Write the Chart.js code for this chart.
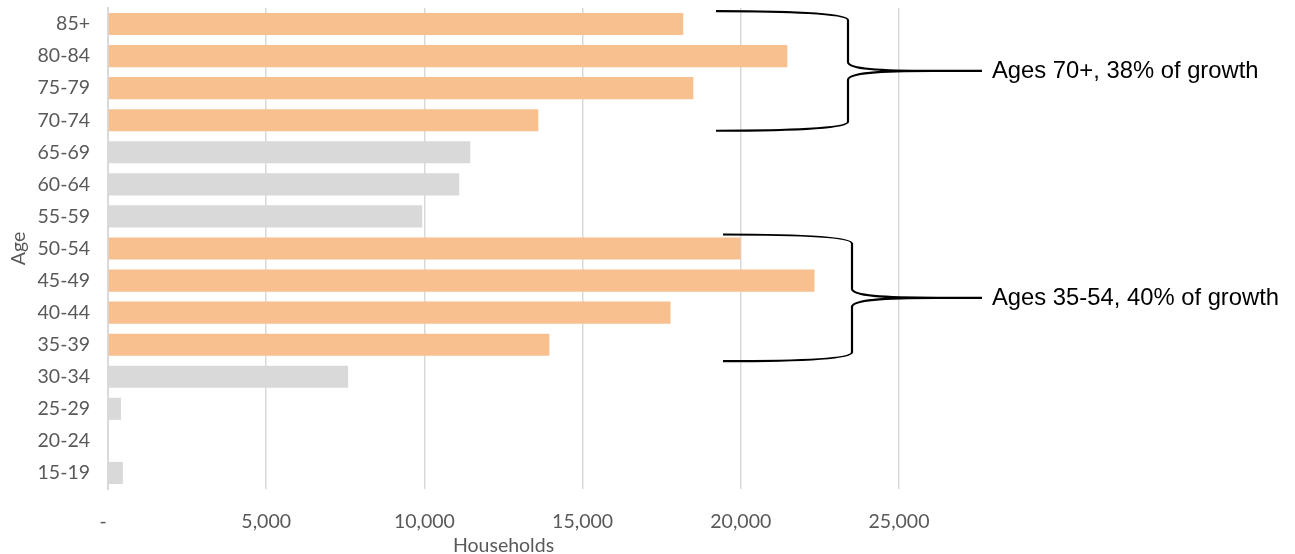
<!DOCTYPE html>
<html>
<head>
<meta charset="utf-8">
<script src="https://cdn.jsdelivr.net/npm/chart.js@4.4.1/dist/chart.umd.min.js"></script>
<style>
  html, body { margin: 0; padding: 0; background: #ffffff; }
  #wrap { width: 1295px; height: 554px; position: relative; }
</style>
</head>
<body>
<div id="wrap"><canvas id="chart" width="1295" height="554"></canvas></div>
<script>
// Household growth by age of householder
const ageGroups = ['85+', '80-84', '75-79', '70-74', '65-69', '60-64', '55-59',
                   '50-54', '45-49', '40-44', '35-39', '30-34', '25-29', '20-24', '15-19'];
const households = [18180, 21470, 18500, 13600, 11450, 11100, 9930,
                    19990, 22330, 17780, 13950, 7590, 410, 0, 470];
const xTickValues = [0, 5000, 10000, 15000, 20000, 25000];
const axisMax = 25000;

// Age bands called out with a brace and their share of growth
const groupLabels = ['Ages 70+, 38% of growth', 'Ages 35-54, 40% of growth'];
const groupFirst = ['85+', '50-54'];
const groupLast = ['70-74', '35-39'];

const ORANGE = '#F8C08E';
const GREY = '#D9D9D9';
const TICK_FONT = 'Lato, "Open Sans", sans-serif';
const TICK_SIZE = 19.5;

function inGroup(label) {
  const i = ageGroups.indexOf(label);
  return groupFirst.some((f, g) => i >= ageGroups.indexOf(f) && i <= ageGroups.indexOf(groupLast[g]));
}
const barColors = ageGroups.map(a => inGroup(a) ? ORANGE : GREY);

// Brace geometry (pixels)
const braceStyle = [
  { left: 716, spine: 848, right: 982, topPad: -13, bottomPad: 10.5 },
  { left: 723, spine: 852, right: 982, topPad: -14, bottomPad: 16.5 }
];

const bracePlugin = {
  id: 'braces',
  afterDatasetsDraw(chart) {
    const ctx = chart.ctx;
    const yScale = chart.scales.y;
    ctx.save();
    ctx.strokeStyle = '#000000';
    ctx.lineWidth = 2.2;
    ctx.lineJoin = 'round';
    groupLabels.forEach((text, g) => {
      const s = braceStyle[g];
      const yT = yScale.getPixelForValue(ageGroups.indexOf(groupFirst[g])) + s.topPad;
      const yB = yScale.getPixelForValue(ageGroups.indexOf(groupLast[g])) + s.bottomPad;
      const yM = (yT + yB) / 2;
      const xL = s.left, xV = s.spine, xR = s.right;
      ctx.beginPath();
      // upper arm
      ctx.moveTo(xL, yT);
      ctx.bezierCurveTo(xL + 70, yT, xV, yT + 2, xV, yT + 9);
      ctx.lineTo(xV, yM - 9);
      ctx.bezierCurveTo(xV, yM - 2, xV + 30, yM, xV + 85, yM);
      ctx.lineTo(xR, yM);
      // lower arm
      ctx.moveTo(xL, yB);
      ctx.bezierCurveTo(xL + 70, yB, xV, yB - 2, xV, yB - 9);
      ctx.lineTo(xV, yM + 9);
      ctx.bezierCurveTo(xV, yM + 2, xV + 30, yM, xV + 85, yM);
      ctx.stroke();

      ctx.fillStyle = '#000000';
      ctx.font = '23.8px "Liberation Sans", Arial, sans-serif';
      ctx.textAlign = 'left';
      ctx.textBaseline = 'middle';
      ctx.fillText(text, xR + 10, yM + 1);
    });
    ctx.restore();
  }
};

new Chart(document.getElementById('chart'), {
  type: 'bar',
  data: {
    labels: ageGroups,
    datasets: [{
      data: households,
      backgroundColor: barColors,
      borderWidth: 0,
      barPercentage: 0.69,
      categoryPercentage: 1.0
    }]
  },
  options: {
    indexAxis: 'y',
    responsive: false,
    animation: false,
    layout: { padding: { top: 8, right: 396, bottom: 0, left: 0 } },
    plugins: {
      legend: { display: false },
      tooltip: { enabled: false }
    },
    scales: {
      x: {
        min: 0,
        max: axisMax,
        afterBuildTicks(scale) {
          scale.ticks = xTickValues.map(v => ({ value: v }));
        },
        afterFit(scale) {
          scale.height = 65;
          scale.paddingLeft = 0;
          scale.paddingRight = 0;
        },
        ticks: {
          color: '#595959',
          font: { family: TICK_FONT, size: TICK_SIZE },
          padding: 21,
          maxRotation: 0,
          callback(v) {
            if (v === 0) return '-  ';
            return v.toLocaleString('en-US');
          }
        },
        grid: {
          color(ctx) {
            if (!ctx.tick || ctx.tick.value === 0) return 'rgba(0,0,0,0)';
            return GREY;
          },
          lineWidth: 1.5,
          drawTicks: false
        },
        border: { display: false },
        title: {
          display: true,
          text: 'Households',
          color: '#595959',
          font: { family: TICK_FONT, size: TICK_SIZE, lineHeight: 0.8 },
          padding: { top: 0, bottom: 0 }
        }
      },
      y: {
        afterFit(scale) {
          scale.width = 108;
          scale.paddingTop = 0;
          scale.paddingBottom = 0;
        },
        ticks: {
          color: '#595959',
          font: { family: TICK_FONT, size: TICK_SIZE },
          padding: 18
        },
        grid: { display: false, drawTicks: false },
        border: { display: true, color: GREY, width: 2 },
        title: {
          display: true,
          text: 'Age',
          color: '#595959',
          font: { family: TICK_FONT, size: TICK_SIZE },
          padding: { top: 7, bottom: 2 }
        }
      }
    }
  },
  plugins: [bracePlugin]
});
</script>
</body>
</html>
